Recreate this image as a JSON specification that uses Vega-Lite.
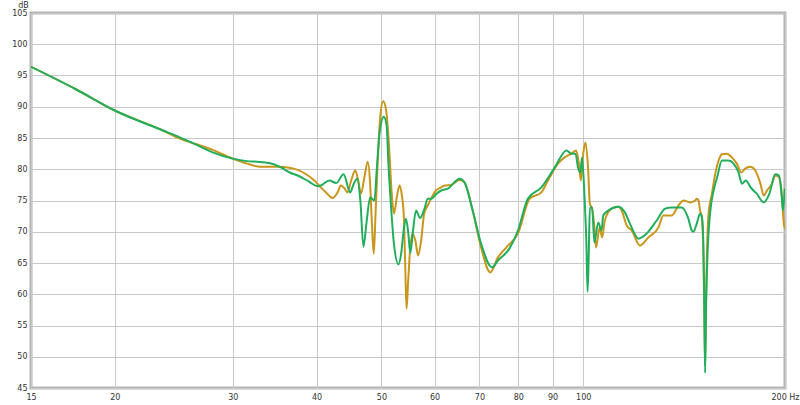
{
  "$schema": "https://vega.github.io/schema/vega-lite/v6.json",
  "autosize": "none",
  "width": 754,
  "height": 375,
  "padding": {"left": 31, "top": 13, "right": 15, "bottom": 17},
  "background": "white",
  "config": {
    "view": {"stroke": "#b4b4b4", "strokeWidth": 3},
    "axis": {"labelFont": "DejaVu Sans", "labelFontSize": 8, "labelColor": "#333333", "gridColor": "#c8c8c8", "gridWidth": 1, "domain": false, "ticks": false, "titleFont": "DejaVu Sans", "titleFontSize": 8, "titleFontWeight": "normal", "titleColor": "#333333", "labelOverlap": false, "labelFlush": false}
  },
  "datasets": {
    "a": [
      {"f":15,"v":96.4},{"f":17.5,"v":92.8},{"f":20,"v":89.4},{"f":23.6,"v":86.2},{"f":25,"v":84.9},{"f":26.5,"v":84.0},{"f":28,"v":83.1},{"f":30,"v":81.7},{"f":31.5,"v":80.9},{"f":33,"v":80.4},{"f":35,"v":80.4},{"f":36.6,"v":80.2},{"f":37.5,"v":79.9},{"f":38.6,"v":79.2},{"f":39.7,"v":78.2},{"f":40.6,"v":77.1},{"f":41.4,"v":76.2},{"f":42.3,"v":75.4},{"f":43.0,"v":76.3},{"f":43.5,"v":77.4},{"f":44.0,"v":77.0},{"f":44.5,"v":76.3},{"f":45.0,"v":78.0},{"f":45.7,"v":79.8},{"f":46.2,"v":78.0},{"f":46.6,"v":76.1},{"f":47.2,"v":79.0},{"f":47.7,"v":81.2},{"f":48.1,"v":77.5},{"f":48.4,"v":71.0},{"f":48.7,"v":66.5},{"f":49.0,"v":73.0},{"f":49.4,"v":82.0},{"f":49.8,"v":88.5},{"f":50.3,"v":90.9},{"f":50.8,"v":89.5},{"f":51.3,"v":84.0},{"f":51.8,"v":76.0},{"f":52.2,"v":72.9},{"f":52.7,"v":75.5},{"f":53.2,"v":77.4},{"f":53.6,"v":76.0},{"f":54.0,"v":72.3},{"f":54.3,"v":63.0},{"f":54.5,"v":57.7},{"f":54.8,"v":62.0},{"f":55.2,"v":67.5},{"f":55.6,"v":69.7},{"f":56.2,"v":68.5},{"f":56.7,"v":66.2},{"f":57.3,"v":68.6},{"f":57.9,"v":72.9},{"f":58.6,"v":74.2},{"f":59.3,"v":75.3},{"f":60.3,"v":76.6},{"f":61.4,"v":77.1},{"f":62.1,"v":77.4},{"f":63.5,"v":77.5},{"f":65.4,"v":78.3},{"f":66.5,"v":77.9},{"f":68.4,"v":73.4},{"f":70.4,"v":67.5},{"f":72.7,"v":63.5},{"f":74.6,"v":65.9},{"f":76.8,"v":67.5},{"f":79.9,"v":69.7},{"f":83.2,"v":75.3},{"f":86.6,"v":76.3},{"f":88.6,"v":78.2},{"f":91.7,"v":80.9},{"f":93.8,"v":81.9},{"f":96.0,"v":82.5},{"f":97.6,"v":83.0},{"f":98.5,"v":81.0},{"f":99.2,"v":78.2},{"f":100.0,"v":82.5},{"f":100.8,"v":84.3},{"f":101.7,"v":80.0},{"f":102.3,"v":74.5},{"f":103.1,"v":73.7},{"f":103.8,"v":71.3},{"f":104.5,"v":67.5},{"f":105.8,"v":70.7},{"f":106.7,"v":69.1},{"f":107.7,"v":71.8},{"f":110.2,"v":73.7},{"f":112.8,"v":74.0},{"f":114.1,"v":73.4},{"f":116.1,"v":71.0},{"f":118.1,"v":70.2},{"f":121.5,"v":67.8},{"f":125.1,"v":69.1},{"f":129.5,"v":70.7},{"f":131.7,"v":72.6},{"f":135.5,"v":72.6},{"f":138.7,"v":74.2},{"f":141.1,"v":75.0},{"f":144.4,"v":74.7},{"f":146.9,"v":75.0},{"f":147.7,"v":75.3},{"f":148.6,"v":75.0},{"f":149.4,"v":73.4},{"f":150.3,"v":72.3},{"f":151.2,"v":65},{"f":151.7,"v":55},{"f":152.0,"v":48.5},{"f":152.4,"v":58},{"f":153.0,"v":67},{"f":153.8,"v":72.9},{"f":155.6,"v":76.1},{"f":157.4,"v":79.3},{"f":159.2,"v":81.4},{"f":161.0,"v":82.4},{"f":163.8,"v":82.5},{"f":166.6,"v":81.9},{"f":169.5,"v":80.9},{"f":172.1,"v":79.5},{"f":174.4,"v":80.1},{"f":177.5,"v":80.4},{"f":180.6,"v":79.8},{"f":183.8,"v":77.7},{"f":185.9,"v":75.8},{"f":188.0,"v":76.6},{"f":191.3,"v":77.7},{"f":193.4,"v":79.0},{"f":195.6,"v":78.8},{"f":197.4,"v":77.1},{"f":198.1,"v":75.0},{"f":199.1,"v":71.5},{"f":200,"v":70.5}
    ],
    "b": [
      {"f":15,"v":96.4},{"f":17.5,"v":92.8},{"f":20,"v":89.4},{"f":23.6,"v":86.2},{"f":25,"v":85.1},{"f":26.5,"v":83.9},{"f":28,"v":82.7},{"f":30,"v":81.7},{"f":31.5,"v":81.3},{"f":32.6,"v":81.2},{"f":34,"v":81.0},{"f":35.4,"v":80.3},{"f":36.6,"v":79.4},{"f":37.5,"v":79.0},{"f":39.0,"v":78.0},{"f":40.1,"v":77.3},{"f":40.6,"v":77.4},{"f":41.8,"v":78.2},{"f":42.8,"v":77.8},{"f":43.9,"v":79.2},{"f":44.9,"v":76.3},{"f":45.4,"v":77.5},{"f":46.0,"v":78.5},{"f":46.5,"v":75.0},{"f":47.0,"v":67.6},{"f":47.5,"v":71.5},{"f":48.1,"v":75.5},{"f":48.5,"v":75.2},{"f":48.8,"v":75.0},{"f":49.2,"v":80.0},{"f":49.7,"v":86.0},{"f":50.4,"v":88.4},{"f":50.9,"v":87.0},{"f":51.2,"v":81.0},{"f":51.6,"v":75.0},{"f":52.2,"v":68.0},{"f":53.0,"v":64.8},{"f":53.5,"v":66.5},{"f":54.0,"v":70.5},{"f":54.4,"v":72.1},{"f":54.8,"v":70.0},{"f":55.2,"v":66.6},{"f":55.7,"v":70.0},{"f":56.3,"v":73.4},{"f":57.1,"v":72.2},{"f":58.0,"v":73.8},{"f":58.6,"v":75.3},{"f":59.4,"v":75.3},{"f":60.3,"v":76.0},{"f":61.4,"v":76.6},{"f":62.8,"v":76.9},{"f":65.4,"v":78.5},{"f":66.5,"v":77.9},{"f":68.4,"v":73.4},{"f":70.4,"v":68.1},{"f":73.1,"v":64.3},{"f":74.6,"v":65.4},{"f":77.6,"v":67.3},{"f":79.9,"v":70.2},{"f":82.7,"v":75.3},{"f":86.6,"v":77.1},{"f":90.7,"v":80.3},{"f":94.4,"v":83.0},{"f":96.0,"v":82.5},{"f":97.4,"v":82.5},{"f":98.2,"v":80.3},{"f":99.0,"v":79.5},{"f":99.6,"v":81.9},{"f":100.5,"v":75.0},{"f":101.1,"v":68},{"f":101.5,"v":60.4},{"f":101.9,"v":66},{"f":102.3,"v":73.9},{"f":103.1,"v":73.9},{"f":103.9,"v":68.3},{"f":105.3,"v":71.5},{"f":106.5,"v":70.2},{"f":107.1,"v":72.6},{"f":109.0,"v":73.4},{"f":112.8,"v":74.0},{"f":115.4,"v":73.1},{"f":117.4,"v":71.3},{"f":120.9,"v":68.9},{"f":124.3,"v":69.7},{"f":128.7,"v":71.8},{"f":132.5,"v":73.7},{"f":135.5,"v":73.9},{"f":140.3,"v":73.9},{"f":143.5,"v":72.1},{"f":145.2,"v":70.2},{"f":146.0,"v":70.0},{"f":147.7,"v":71.3},{"f":149.4,"v":72.9},{"f":150.3,"v":72.4},{"f":150.9,"v":70.0},{"f":151.5,"v":60},{"f":152.0,"v":47.4},{"f":152.5,"v":58},{"f":153.4,"v":67.5},{"f":154.6,"v":72.9},{"f":156.5,"v":76.6},{"f":158.5,"v":78.8},{"f":161.0,"v":81.4},{"f":164.7,"v":81.4},{"f":167.6,"v":80.9},{"f":170.5,"v":79.5},{"f":172.5,"v":77.7},{"f":174.8,"v":78.2},{"f":178.0,"v":77.0},{"f":181.5,"v":76.1},{"f":185.9,"v":74.7},{"f":189.6,"v":76.1},{"f":193.4,"v":79.2},{"f":195.9,"v":79.0},{"f":197.8,"v":75.5},{"f":198.6,"v":73.4},{"f":199.8,"v":76.9}
    ]
  },
  "layer": [
    {
      "data": {"name": "a"},
      "mark": {"type": "line", "color": "#c9961c", "strokeWidth": 2, "interpolate": "monotone", "clip": true},
      "encoding": {
        "x": {"field": "f", "type": "quantitative", "scale": {"type": "log", "domain": [15, 200], "nice": false},
          "axis": {"values": [15,20,30,40,50,60,70,80,90,100,200], "tickCount": 30, "labelExpr": "datum.value == 200 ? '200 Hz' : datum.value", "labelPadding": 5, "title": null}},
        "y": {"field": "v", "type": "quantitative", "scale": {"domain": [45, 105], "nice": false, "zero": false},
          "axis": {"values": [45,50,55,60,65,70,75,80,85,90,95,100,105], "tickCount": 30, "labelPadding": 4, "title": "dB", "titleAngle": 0, "titleX": -8, "titleY": -6, "titleAlign": "center", "titleBaseline": "alphabetic"}}
      }
    },
    {
      "data": {"name": "b"},
      "mark": {"type": "line", "color": "#20ae5c", "strokeWidth": 2, "interpolate": "monotone", "clip": true},
      "encoding": {
        "x": {"field": "f", "type": "quantitative"},
        "y": {"field": "v", "type": "quantitative"}
      }
    }
  ]
}
